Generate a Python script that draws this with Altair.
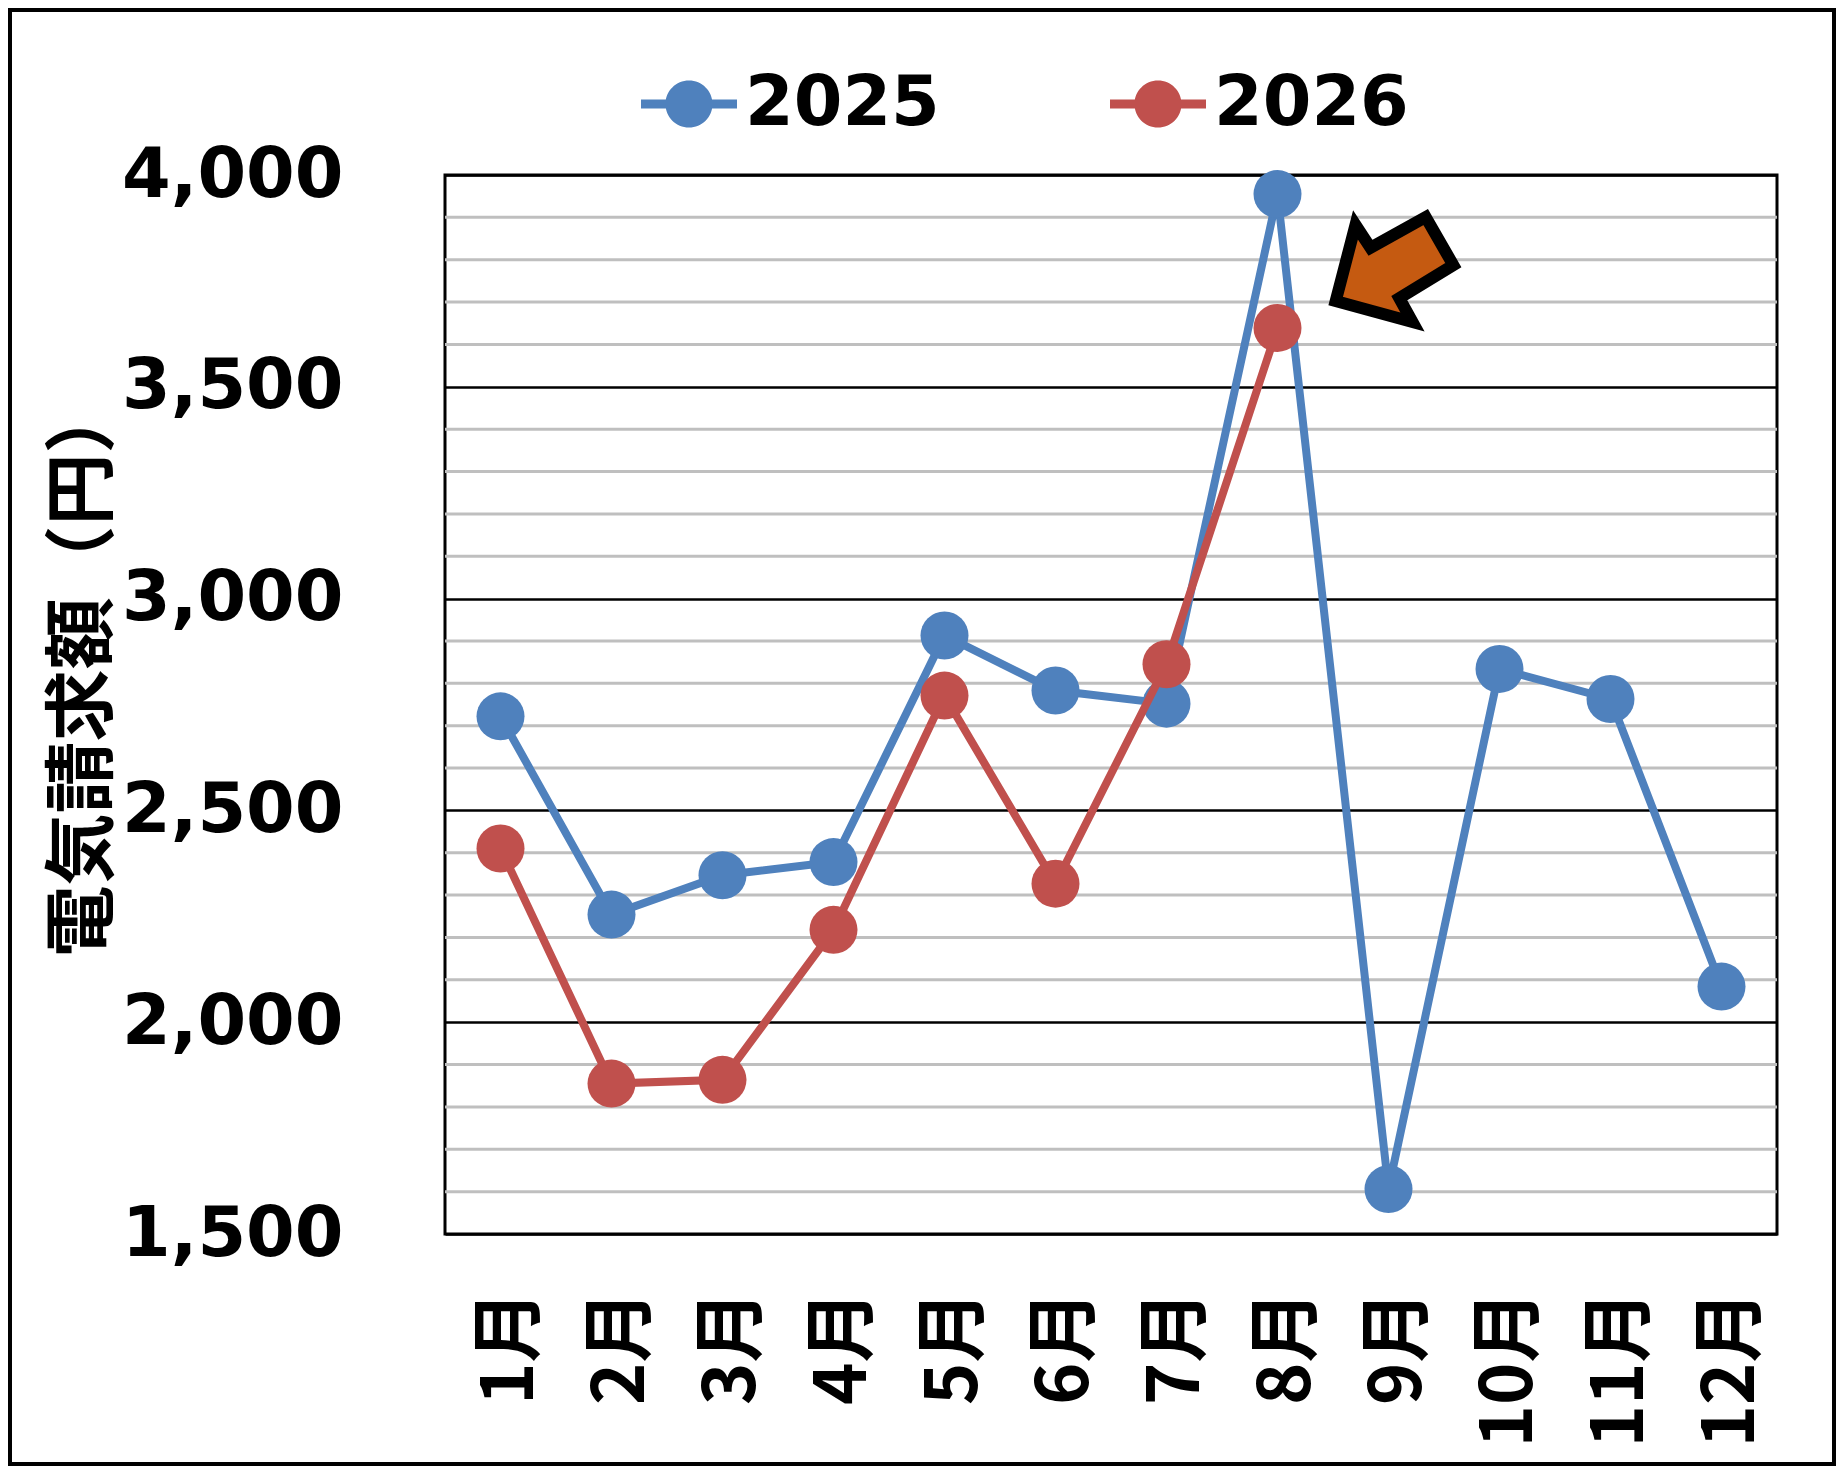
import altair as alt
import pandas as pd

# ---------------- data ----------------
months = ["1月", "2月", "3月", "4月", "5月", "6月", "7月", "8月", "9月", "10月", "11月", "12月"]
bill_2025 = [2722, 2254, 2347, 2378, 2913, 2783, 2752, 3955, 1606, 2834, 2763, 2084]
bill_2026 = [2410, 1855, 1864, 2218, 2771, 2327, 2845, 3639]
years = ["2025", "2026"]
series_colors = ["#4F81BD", "#C0504D"]
major_ticks = [1500, 2000, 2500, 3000, 3500, 4000]
minor_ticks = [1600, 1700, 1800, 1900, 2100, 2200, 2300, 2400, 2600, 2700, 2800, 2900,
               3100, 3200, 3300, 3400, 3600, 3700, 3800, 3900]
y_title = "電気請求額（円）"
arrow_month = ["9月"]
arrow_value = [3776]

# ---------------- tables ----------------
rows = []
for m, v in zip(months, bill_2025):
    rows.append({"month": m, "year": "2025", "value": v})
for m, v in zip(months, bill_2026):
    rows.append({"month": m, "year": "2026", "value": v})
df = pd.DataFrame(rows)
minor_df = pd.DataFrame({"value": minor_ticks})
arrow_df = pd.DataFrame({"month": arrow_month, "value": arrow_value})
frame_df = pd.DataFrame({"k": [0]})

W, H = 1332, 1059
LATIN = "DejaVu Sans"
CJK = "Noto Sans CJK JP"

y_scale = alt.Scale(domain=[1500, 4000], nice=False, zero=False)
y_axis = alt.Axis(
    values=major_ticks, format=",.0f", grid=True, gridColor="black", gridWidth=2.5,
    domain=False, ticks=False, labelFont=LATIN, labelFontSize=70, labelFontWeight="bold",
    labelColor="black", labelPadding=102, labelLimit=0, title=y_title, titleFont=CJK,
    titleFontSize=72, titleFontWeight="bold", titleColor="black", titleX=-362, titleY=494,
    titleBaseline="middle", titleAngle=270, titleLimit=0,
)
x_axis = alt.Axis(
    labelAngle=-90, labelFont=CJK, labelFontSize=72, labelFontWeight="bold",
    labelColor="black", labelPadding=56, labelOffset=10, labelLimit=0, domain=False,
    ticks=False, grid=False, title=None,
)
x_enc = alt.X("month:N", sort=months, scale=alt.Scale(domain=months), axis=x_axis)
y_enc = alt.Y("value:Q", scale=y_scale, axis=y_axis)

LEGEND_PATH = ("M-1,-0.094 L-0.45,-0.094 L-0.45,0.094 L-1,0.094 Z "
               "M0.45,-0.094 L1,-0.094 L1,0.094 L0.45,0.094 Z "
               "M0.49,0 A0.49,0.49 0 1,1 -0.49,0 A0.49,0.49 0 1,1 0.49,0 Z")
color_enc = alt.Color(
    "year:N", scale=alt.Scale(domain=years, range=series_colors),
    legend=alt.Legend(
        orient="none", legendX=196, legendY=-119, direction="horizontal", title=None,
        symbolType=LEGEND_PATH, symbolSize=9216, symbolStrokeWidth=0, symbolOpacity=1,
        labelFont=LATIN, labelFontSize=70, labelFontWeight="bold", labelColor="black",
        labelOffset=8, labelLimit=0, columnPadding=170, padding=0,
    ),
)

minor_grid = alt.Chart(minor_df).mark_rule(color="#BFBFBF", strokeWidth=3).encode(y=y_enc)

layers = [minor_grid]
for yr, col in zip(years, series_colors):
    base = alt.Chart(df).transform_filter(alt.datum.year == yr)
    layers.append(base.mark_line(color=col, strokeWidth=8).encode(x=x_enc, y=y_enc))
    layers.append(
        base.mark_point(filled=True, shape="circle", size=2304, opacity=1)
        .encode(x=x_enc, y=y_enc, color=color_enc)
    )

ARROW_PATH = "M-0.98,0.52 L-0.65,-0.75 L-0.4,-0.37 L0.52,-0.88 L0.98,-0.08 L0.08,0.47 L0.3,0.87 Z"
arrow = alt.Chart(arrow_df).mark_point(
    shape=ARROW_PATH, size=14400, filled=True, fill="#C55A11", stroke="black",
    strokeWidth=12, opacity=1, xOffset=6, strokeJoin="miter",
).encode(x=x_enc, y=y_enc)
layers.append(arrow)

frame = alt.Chart(frame_df).mark_rect(fill="transparent", stroke="black", strokeWidth=4).encode(
    x=alt.value(-435), x2=alt.value(1389), y=alt.value(-165), y2=alt.value(1289)
)
layers.append(frame)

chart = (
    alt.layer(*layers)
    .properties(
        width=W, height=H,
        autosize=alt.AutoSizeParams(type="none"),
        padding={"left": 437, "top": 167, "right": 59, "bottom": 232},
        background="white",
    )
    .configure_view(stroke="black", strokeWidth=3)
)

chart.save("out.html", embed_options={"renderer": "svg", "actions": False})
